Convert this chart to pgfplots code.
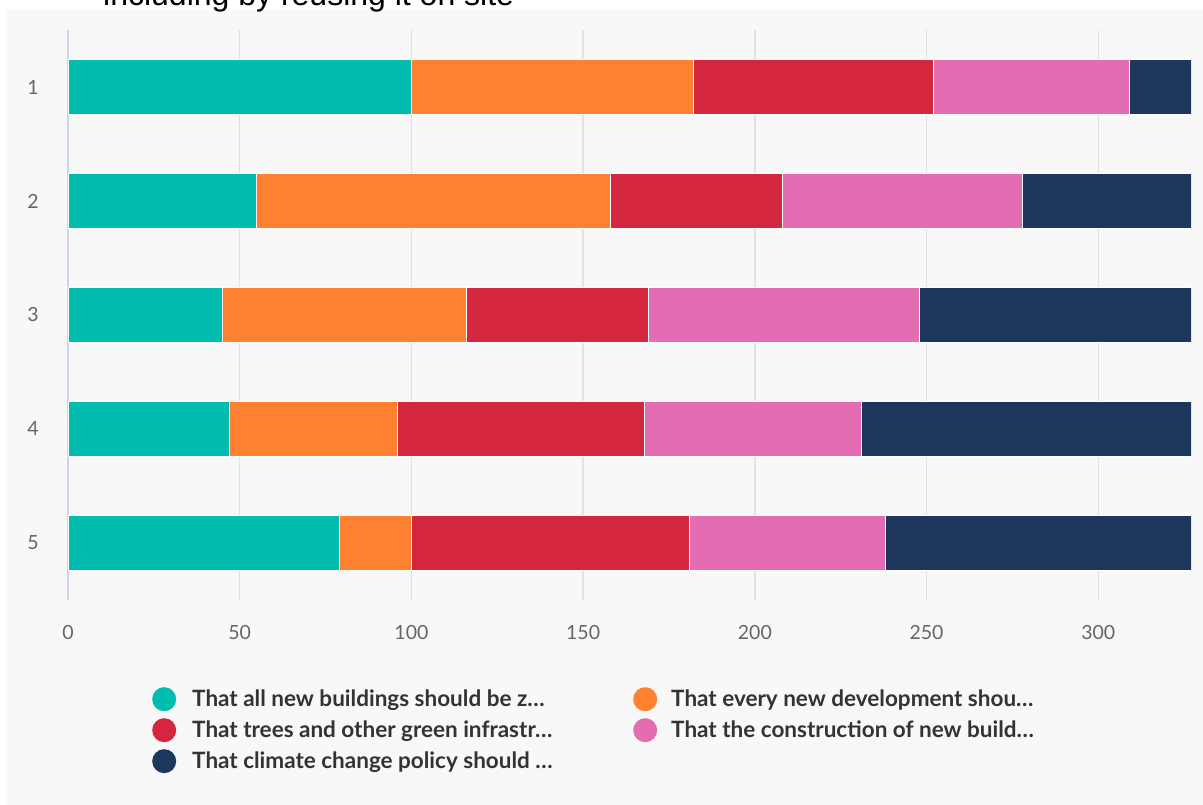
\documentclass[border=0pt]{standalone}
\usepackage{pgfplots}
\pgfplotsset{compat=1.18}
\usepackage{pgfplotstable}
\usepackage{fontspec}
\setmainfont{Lato}
\newfontfamily\titlefont{Liberation Sans}
\definecolor{bg}{HTML}{F8F8F8}
\definecolor{cA}{HTML}{00BDB0}
\definecolor{cB}{HTML}{FD8130}
\definecolor{cC}{HTML}{D4263E}
\definecolor{cD}{HTML}{E46CB2}
\definecolor{cE}{HTML}{1C365C}
\definecolor{gridc}{HTML}{E2E2E2}
\definecolor{axisline}{HTML}{CCD6EB}
\definecolor{tickc}{HTML}{666666}
\definecolor{legtext}{HTML}{333333}

\pgfplotstableread{
cat a b c d e
1 100 82 70 57 18
2 55 103 50 70 49
3 45 71 53 79 79
4 47 49 72 63 96
5 79 21 81 57 89
}\datatable

\begin{document}
\begin{tikzpicture}
\useasboundingbox (0,0) rectangle (1203bp,805bp);
\fill[bg] (7bp,0bp) rectangle (1203bp,795bp);
\node[anchor=base west, inner sep=0pt, font=\titlefont\fontsize{32bp}{38bp}\selectfont] at (103bp,799bp) {including by reusing it on site};
\begin{axis}[
  at={(68bp,205bp)}, anchor=south west,
  scale only axis, width=1123bp, height=570bp,
  xbar stacked, bar width=55bp,
  xmin=0, xmax=327, ymin=0.5, ymax=5.5, y dir=reverse,
  ytick={1,2,3,4,5},
  xtick={50,100,150,200,250,300},
  extra x ticks={0},
  extra x tick style={grid style={color=axisline, line width=1.5bp}},
  xmajorgrids, grid style={color=gridc, line width=1.5bp},
  major tick length=0pt,
  axis line style={draw=none},
  tick label style={font=\fontsize{19.5bp}{22bp}\selectfont, text=tickc},
  /pgf/number format/assume math mode=true,
  xticklabel style={anchor=center, yshift=-33bp},
  yticklabel style={anchor=center, xshift=-35bp},
  every axis plot post/.append style={
    legend image code/.code={\fill[##1,draw=none] (12bp,0bp) circle (12bp);}},
  legend columns=2,
  legend style={at={(0.0748,-0.1526)}, anchor=north west, draw=none, fill=none,
    inner sep=0pt, column sep=0pt, row sep=7bp,
    nodes={inner sep=0pt, anchor=west, text=legtext},
    font=\bfseries\fontsize{22.5bp}{26bp}\selectfont},
]
\addplot[fill=cA, draw=white, line width=1bp] table[x=a, y=cat] {\datatable};
\addplot[fill=cB, draw=white, line width=1bp] table[x=b, y=cat] {\datatable};
\addplot[fill=cC, draw=white, line width=1bp] table[x=c, y=cat] {\datatable};
\addplot[fill=cD, draw=white, line width=1bp] table[x=d, y=cat] {\datatable};
\addplot[fill=cE, draw=white, line width=1bp] table[x=e, y=cat] {\datatable};
\legend{\hspace*{16bp}\makebox[441bp][l]{That all new buildings should be z…},
        \hspace*{14bp}That every new development shou…,
        \hspace*{16bp}\makebox[441bp][l]{That trees and other green infrastr…},
        \hspace*{14bp}That the construction of new build…,
        \hspace*{16bp}\makebox[441bp][l]{That climate change policy should …}}
\end{axis}
\end{tikzpicture}
\end{document}
